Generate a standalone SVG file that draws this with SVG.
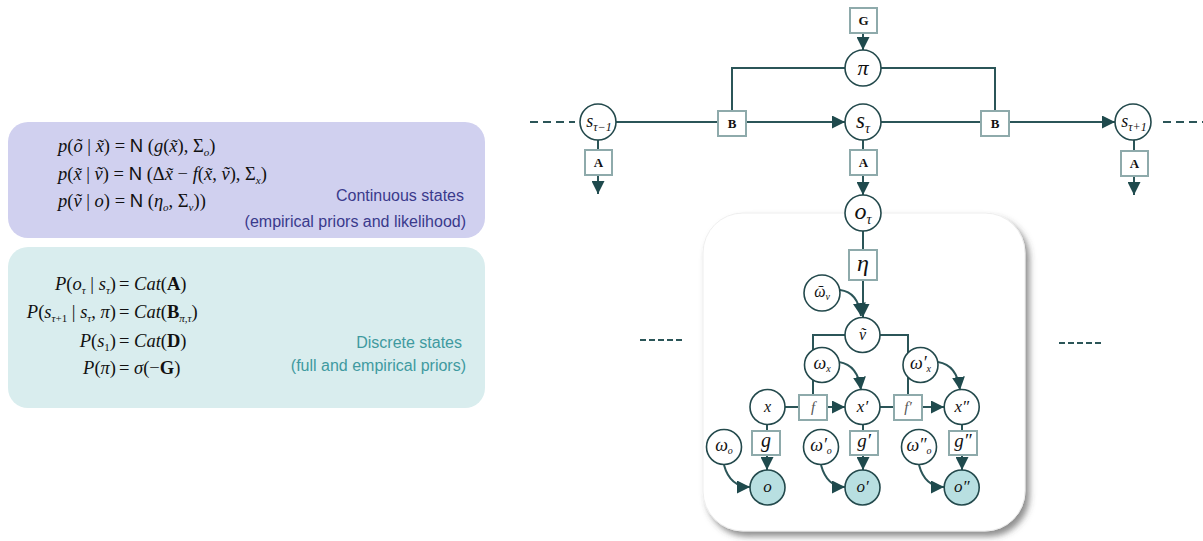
<svg xmlns="http://www.w3.org/2000/svg" width="1203" height="541" viewBox="0 0 1203 541">
<style>
.m{font-family:"Liberation Serif","Times New Roman",serif;font-size:18.5px;fill:#111}
.i{font-style:italic}
.b{font-weight:bold}
.sans{font-family:"Liberation Sans",Arial,sans-serif}
.lbl{font-family:"Liberation Sans",Arial,sans-serif;font-size:16px;text-anchor:end}
.c{fill:#fff;stroke:#23494c;stroke-width:1.6}
.obs{fill:#b8dfe1;stroke:#23494c;stroke-width:1.6}
.bx{fill:#fff;stroke:#8eaaab;stroke-width:2}
.ln{fill:none;stroke:#2b5558;stroke-width:2}
.ar{marker-end:url(#ah)}
.t{font-family:"Liberation Serif","Times New Roman",serif;font-style:italic;fill:#111;text-anchor:middle}
.bt{font-family:"Liberation Serif","Times New Roman",serif;font-weight:bold;font-size:13px;text-anchor:middle;fill:#111}
.ft{font-family:"Liberation Serif","Times New Roman",serif;font-style:italic;font-size:15px;text-anchor:middle;fill:#555}
.dash{stroke:#2b5558;stroke-width:2;fill:none}
</style>
<defs>
<marker id="ah" viewBox="0 0 10 10" refX="10" refY="5" markerWidth="13" markerHeight="13" markerUnits="userSpaceOnUse" orient="auto"><path d="M0 0L10 5L0 10z" fill="#1f4a4d"/></marker>
<filter id="sh" x="-10%" y="-10%" width="125%" height="125%"><feDropShadow dx="4" dy="5" stdDeviation="3" flood-color="#444" flood-opacity="0.6"/></filter>
</defs>

<!-- left panels -->
<g id="continuous-panel">
<rect x="8" y="122" width="477" height="116" rx="20" fill="#d0d0ef"/>
<text class="m" x="58" y="152"><tspan class="i">p</tspan>(<tspan class="i">õ</tspan> | <tspan class="i">x̃</tspan>) = <tspan class="sans">N</tspan> (<tspan class="i">g</tspan>(<tspan class="i">x̃</tspan>), Σ<tspan class="i" font-size="11" dy="4">o</tspan><tspan dy="-4">)</tspan></text>
<text class="m" x="58" y="180"><tspan class="i">p</tspan>(<tspan class="i">x̃</tspan> | <tspan class="i">ṽ</tspan>) = <tspan class="sans">N</tspan> (Δ<tspan class="i">x̃</tspan> − <tspan class="i">f</tspan>(<tspan class="i">x̃</tspan>, <tspan class="i">ṽ</tspan>), Σ<tspan class="i" font-size="11" dy="4">x</tspan><tspan dy="-4">)</tspan></text>
<text class="m" x="58" y="207"><tspan class="i">p</tspan>(<tspan class="i">ṽ</tspan> | <tspan class="i">o</tspan>) = <tspan class="sans">N</tspan> (<tspan class="i">η</tspan><tspan class="i" font-size="11" dy="4">o</tspan><tspan dy="-4">, Σ</tspan><tspan class="i" font-size="11" dy="4">v</tspan><tspan dy="-4">))</tspan></text>
<text class="lbl" x="464" y="201" fill="#3a3a8c">Continuous states</text>
<text class="lbl" x="466" y="227" fill="#3a3a8c">(empirical priors and likelihood)</text>
</g>

<g id="discrete-panel">
<rect x="8" y="247" width="477" height="161" rx="20" fill="#d9edee"/>
<text class="m" x="116" y="290" text-anchor="end"><tspan class="i">P</tspan>(<tspan class="i">o</tspan><tspan class="i" font-size="11" dy="4">τ</tspan><tspan dy="-4"> | </tspan><tspan class="i">s</tspan><tspan class="i" font-size="11" dy="4">τ</tspan><tspan dy="-4">)</tspan></text>
<text class="m" x="119" y="290">= <tspan class="i">Cat</tspan>(<tspan class="b">A</tspan>)</text>
<text class="m" x="116" y="318" text-anchor="end"><tspan class="i">P</tspan>(<tspan class="i">s</tspan><tspan class="i" font-size="11" dy="4">τ</tspan><tspan font-size="11">+1</tspan><tspan dy="-4"> | </tspan><tspan class="i">s</tspan><tspan class="i" font-size="11" dy="4">τ</tspan><tspan dy="-4">, </tspan><tspan class="i">π</tspan>)</text>
<text class="m" x="119" y="318">= <tspan class="i">Cat</tspan>(<tspan class="b">B</tspan><tspan class="i" font-size="11" dy="4">π,τ</tspan><tspan dy="-4">)</tspan></text>
<text class="m" x="116" y="347" text-anchor="end"><tspan class="i">P</tspan>(<tspan class="i">s</tspan><tspan font-size="11" dy="4">1</tspan><tspan dy="-4">)</tspan></text>
<text class="m" x="119" y="347">= <tspan class="i">Cat</tspan>(<tspan class="b">D</tspan>)</text>
<text class="m" x="116" y="374" text-anchor="end"><tspan class="i">P</tspan>(<tspan class="i">π</tspan>)</text>
<text class="m" x="119" y="374">= <tspan class="i">σ</tspan>(−<tspan class="b">G</tspan>)</text>
<text class="lbl" x="462" y="348" fill="#3f9aa0">Discrete states</text>
<text class="lbl" x="466" y="371" fill="#3f9aa0">(full and empirical priors)</text>
</g>

<!-- inner continuous panel -->
<g id="inner-panel">
<rect x="703" y="213" width="322" height="318" rx="40" fill="#fff" stroke="#eeeeee" stroke-width="1" filter="url(#sh)"/>
</g>

<!-- connectors -->
<g id="connectors">
<path class="dash" d="M530 122H575" stroke-dasharray="8 5"/>
<path class="dash" d="M1163 122H1203" stroke-dasharray="8 5"/>
<path class="dash" d="M640 340H682" stroke-dasharray="6 3"/>
<path class="dash" d="M1059 343H1102" stroke-dasharray="6 3"/>
<path class="ln ar" d="M863 33V50"/>
<path class="ln" d="M845 68H732V111"/>
<path class="ln" d="M881 68H995V111"/>
<path class="ln" d="M616 122H718"/>
<path class="ln ar" d="M746 122H845"/>
<path class="ln" d="M881 122H981"/>
<path class="ln ar" d="M1009 122H1115"/>
<path class="ln" d="M598 140V150"/>
<path class="ln ar" d="M598 175V194"/>
<path class="ln" d="M863 140V150"/>
<path class="ln ar" d="M863 175V195"/>
<path class="ln" d="M1134 140V151"/>
<path class="ln ar" d="M1134 176V195"/>
<path class="ln" d="M863 231V250"/>
<path class="ln ar" d="M863 280V317"/>
<path class="ln ar" d="M840 290Q858 292 861 316"/>
<path class="ln" d="M845 335H813V395"/>
<path class="ln" d="M880 335H908V395"/>
<path class="ln ar" d="M839 362Q858 365 861 390"/>
<path class="ln ar" d="M938 362Q957 365 960 390"/>
<path class="ln" d="M785 407H799"/>
<path class="ln ar" d="M827 407H845"/>
<path class="ln" d="M880 407H894"/>
<path class="ln ar" d="M922 407H944"/>
<path class="ln" d="M767 424V431"/>
<path class="ln ar" d="M767 455V470"/>
<path class="ln" d="M863 424V431"/>
<path class="ln ar" d="M863 455V470"/>
<path class="ln" d="M962 424V431"/>
<path class="ln ar" d="M962 455V470"/>
<path class="ln ar" d="M724 465Q730 487 750 487"/>
<path class="ln ar" d="M821 465Q827 487 845 487"/>
<path class="ln ar" d="M919 465Q925 487 944 487"/>
</g>

<!-- discrete nodes -->
<g id="G"><rect class="bx" x="850" y="8" width="27" height="25"/><text class="bt" x="863.5" y="25">G</text></g>
<g id="pi"><circle class="c" cx="863" cy="68" r="18"/><text class="t" x="863" y="75" font-size="22">π</text></g>
<g id="s-tau-1"><circle class="c" cx="598" cy="122" r="18"/><text class="t" x="599" y="127" font-size="18">s<tspan font-size="12" dy="4">τ−1</tspan></text></g>
<g id="s-tau"><circle class="c" cx="863" cy="122" r="18"/><text class="t" x="863" y="128" font-size="23">s<tspan font-size="14" dy="5">τ</tspan></text></g>
<g id="s-tau+1"><circle class="c" cx="1133" cy="122" r="18"/><text class="t" x="1134" y="127" font-size="18">s<tspan font-size="12" dy="4">τ+1</tspan></text></g>
<g id="B-left"><rect class="bx" x="718" y="111" width="28" height="25"/><text class="bt" x="732" y="128">B</text></g>
<g id="B-right"><rect class="bx" x="981" y="111" width="28" height="25"/><text class="bt" x="995" y="128">B</text></g>
<g id="A-left"><rect class="bx" x="585" y="150" width="27" height="25"/><text class="bt" x="598.5" y="167">A</text></g>
<g id="A-mid"><rect class="bx" x="850" y="150" width="27" height="25"/><text class="bt" x="863.5" y="167">A</text></g>
<g id="A-right"><rect class="bx" x="1121" y="151" width="27" height="25"/><text class="bt" x="1134.5" y="168">A</text></g>
<g id="o-tau"><circle class="c" cx="863" cy="213" r="18"/><text class="t" x="863" y="219" font-size="24">o<tspan font-size="14" dy="5">τ</tspan></text></g>

<!-- continuous nodes -->
<g id="eta"><rect class="bx" x="849" y="250" width="28" height="30"/><text class="t" x="863" y="271" font-size="24">η</text></g>
<g id="omega-v"><circle class="c" cx="822" cy="293" r="18"/><text class="t" x="822" y="297" font-size="16">ῶ<tspan font-size="10" dy="3">v</tspan></text></g>
<g id="v"><circle class="c" cx="862.5" cy="335" r="17.5"/><text class="t" x="862.5" y="340" font-size="16">ṽ</text></g>
<g id="omega-x"><circle class="c" cx="822" cy="365" r="17.5"/><text class="t" x="822" y="369" font-size="18">ω<tspan font-size="10" dy="3">x</tspan></text></g>
<g id="omega-x1"><circle class="c" cx="920.5" cy="365" r="17.5"/><text class="t" x="920.5" y="369" font-size="18">ω′<tspan font-size="10" dy="3">x</tspan></text></g>
<g id="x"><circle class="c" cx="767.5" cy="407" r="17.5"/><text class="t" x="767.5" y="412" font-size="16">x</text></g>
<g id="f"><rect class="bx" x="799" y="395" width="28" height="25"/><text class="ft" x="813" y="412">f</text></g>
<g id="x1"><circle class="c" cx="862.5" cy="407" r="17.5"/><text class="t" x="862.5" y="412" font-size="17">x′</text></g>
<g id="f1"><rect class="bx" x="894" y="395" width="28" height="25"/><text class="ft" x="908" y="412">f′</text></g>
<g id="x2"><circle class="c" cx="961.7" cy="407" r="17.5"/><text class="t" x="961.7" y="412" font-size="17">x″</text></g>
<g id="g"><rect class="bx" x="752" y="431" width="28" height="24"/><text class="t" x="766" y="447" font-size="20">g</text></g>
<g id="g1"><rect class="bx" x="850" y="431" width="28" height="24"/><text class="t" x="864" y="447" font-size="19">g′</text></g>
<g id="g2"><rect class="bx" x="949" y="431" width="28" height="24"/><text class="t" x="963" y="447" font-size="19">g″</text></g>
<g id="omega-o"><circle class="c" cx="724" cy="447" r="17.5"/><text class="t" x="724" y="451" font-size="18">ω<tspan font-size="10" dy="3">o</tspan></text></g>
<g id="omega-o1"><circle class="c" cx="821" cy="447" r="17.5"/><text class="t" x="821" y="451" font-size="18">ω′<tspan font-size="10" dy="3">o</tspan></text></g>
<g id="omega-o2"><circle class="c" cx="919" cy="447" r="17.5"/><text class="t" x="919" y="451" font-size="18">ω″<tspan font-size="10" dy="3">o</tspan></text></g>
<g id="o"><circle class="obs" cx="767.5" cy="487.5" r="17.5"/><text class="t" x="767.5" y="492" font-size="17">o</text></g>
<g id="o1"><circle class="obs" cx="862.5" cy="487.5" r="17.5"/><text class="t" x="862.5" y="492" font-size="17">o′</text></g>
<g id="o2"><circle class="obs" cx="961.7" cy="487.5" r="17.5"/><text class="t" x="961.7" y="492" font-size="17">o″</text></g>
</svg>
